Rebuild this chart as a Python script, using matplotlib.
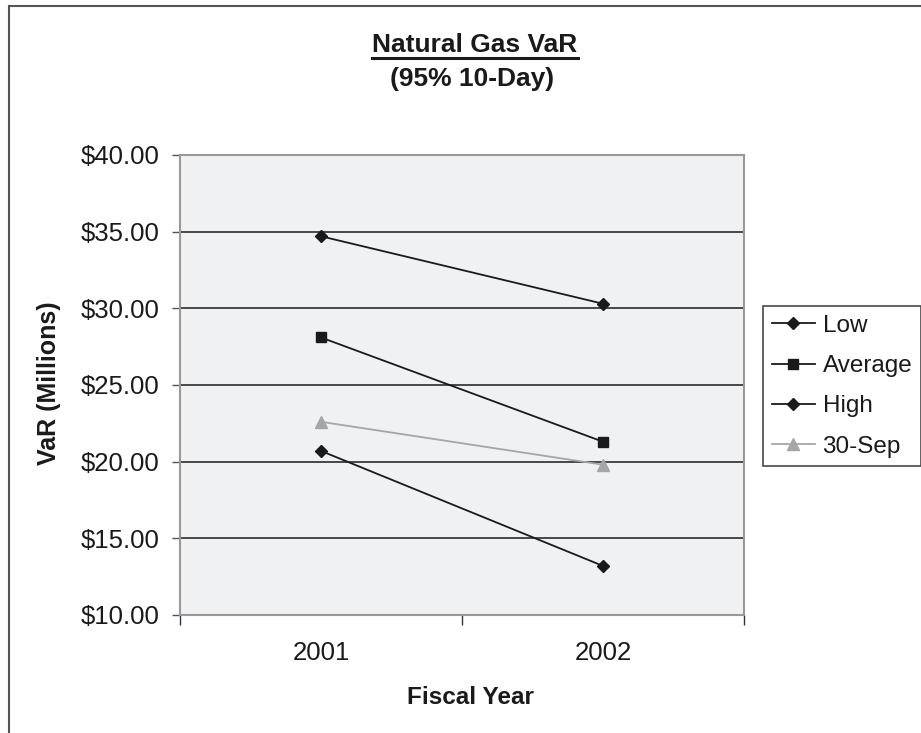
import matplotlib
matplotlib.use("Agg")
import matplotlib.pyplot as plt
from matplotlib.lines import Line2D
from matplotlib.patches import Rectangle

plt.rcParams['font.family'] = ['Liberation Sans', 'DejaVu Sans']

years = ["2001", "2002"]
low = [20.7, 13.2]
average = [28.1, 21.3]
high = [34.7, 30.3]
sep30 = [22.6, 19.8]
yticks = [10, 15, 20, 25, 30, 35, 40]

W, H = 921, 733
fig = plt.figure(figsize=(W / 100, H / 100), dpi=100)

# figure border (left & top visible)
fig.patches.append(Rectangle((9 / W, -0.1), 1.2, 1 - 6 / H + 0.1, transform=fig.transFigure,
                             fill=False, edgecolor='#555555', linewidth=1.5))

l, r, t, b = 180, 744, 155, 615
ax = fig.add_axes([l / W, 1 - b / H, (r - l) / W, (b - t) / H])
ax.set_facecolor('#f0f1f3')

x = [1, 2]
ax.plot(x, low, color='#1a1a1a', marker='D', markersize=6.5, linewidth=1.3, label='Low')
ax.plot(x, average, color='#1a1a1a', marker='s', markersize=7.5, linewidth=1.3, label='Average')
ax.plot(x, high, color='#1a1a1a', marker='D', markersize=6.5, linewidth=1.3, label='High')
ax.plot(x, sep30, color='#a6a6a6', marker='^', markersize=8.5, linewidth=1.3, label='30-Sep')

ax.set_xlim(0.5, 2.5)
ax.set_ylim(10, 40)
ax.set_yticks(yticks)
ax.set_yticklabels([f"${v:.2f}" for v in yticks], fontsize=18.5, color='#1a1a1a')
ax.yaxis.grid(True, color='#1a1a1a', linewidth=1.1)
ax.set_axisbelow(True)

ax.set_xticks([0.5, 1.5, 2.5])
ax.set_xticklabels([])
ax.set_xticks([1, 2], minor=True)
ax.set_xticklabels(years, minor=True, fontsize=18.5, color='#1a1a1a')
ax.tick_params(axis='x', which='minor', length=0, pad=19)
ax.tick_params(axis='x', which='major', length=7, width=1, color='#333333', direction='out')
ax.tick_params(axis='y', length=6, width=1, color='#555555', direction='out', pad=9)

for side in ['left', 'bottom', 'top', 'right']:
    ax.spines[side].set_color('#999999')
    ax.spines[side].set_linewidth(1.5)

fig.text(49 / W, 1 - 383 / H, 'VaR (Millions)', fontsize=18, fontweight='bold',
         rotation=90, ha='center', va='center', color='#1a1a1a')
fig.text(470 / W, 1 - 697 / H, 'Fiscal Year', fontsize=17.5, fontweight='bold',
         ha='center', va='center', color='#1a1a1a')

title1 = fig.text(475 / W, 1 - 45 / H, 'Natural Gas VaR', fontsize=19, fontweight='bold',
                  ha='center', va='center', color='#1a1a1a')
fig.text(472 / W, 1 - 79 / H, '(95% 10-Day)', fontsize=19, fontweight='bold',
         ha='center', va='center', color='#1a1a1a')

leg = fig.legend(loc='upper left', bbox_to_anchor=(763 / W, 1 - 306 / H),
                 bbox_transform=fig.transFigure, fontsize=17.5, frameon=True, fancybox=False,
                 edgecolor='#1a1a1a', handlelength=1.8, handletextpad=0.3,
                 labelspacing=0.76, borderpad=0.35, borderaxespad=0)
leg.get_frame().set_linewidth(1.2)
for txt in leg.get_texts():
    txt.set_color('#1a1a1a')

fig.canvas.draw()
bb = title1.get_window_extent(renderer=fig.canvas.get_renderer())
uy = (bb.y0 - 1) / H
fig.add_artist(Line2D([bb.x0 / W, bb.x1 / W], [uy, uy], transform=fig.transFigure,
                      color='#1a1a1a', linewidth=2.2))

fig.savefig('out.png', dpi=100)
